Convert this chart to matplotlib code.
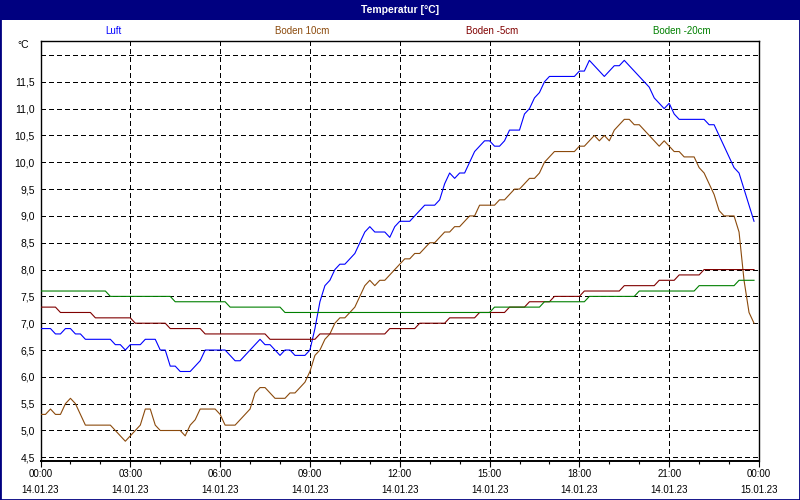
import matplotlib
matplotlib.use("Agg")
import matplotlib.pyplot as plt
from matplotlib.patches import Rectangle

plt.rcParams['font.family'] = ['Liberation Sans', 'DejaVu Sans']

# Messwerte 14.01.23, nur die Knickpunkte (10-Minuten-Werte)
luft_zeit = ["00:00", "00:20", "00:30", "00:40", "00:50", "01:00", "01:10", "01:20", "01:30", "02:20",
             "02:30", "02:40", "02:50", "03:00", "03:20", "03:30", "03:50", "04:00", "04:10", "04:20",
             "04:30", "04:40", "05:00", "05:10", "05:20", "05:30", "06:10", "06:20", "06:30", "06:40",
             "06:50", "07:00", "07:10", "07:20", "07:30", "07:40", "07:50", "08:00", "08:10", "08:20",
             "08:30", "08:50", "09:00", "09:10", "09:20", "09:30", "09:40", "09:50", "10:00", "10:10",
             "10:20", "10:30", "10:40", "10:50", "11:00", "11:10", "11:30", "11:40", "11:50", "12:00",
             "12:20", "12:30", "12:40", "12:50", "13:10", "13:20", "13:30", "13:40", "13:50", "14:00",
             "14:10", "14:20", "14:30", "14:40", "14:50", "15:00", "15:10", "15:20", "15:30", "15:40",
             "16:00", "16:10", "16:20", "16:30", "16:40", "16:50", "17:00", "17:50", "18:00", "18:10",
             "18:20", "18:30", "18:40", "18:50", "19:00", "19:10", "19:20", "19:30", "19:40", "19:50",
             "20:00", "20:10", "20:20", "20:30", "20:40", "20:50", "21:00", "21:10", "21:20", "22:10",
             "22:20", "22:30", "22:40", "22:50", "23:00", "23:10", "23:20", "23:30", "23:40", "23:50"]
luft_temp = [6.9, 6.9, 6.8, 6.8, 6.9, 6.9, 6.8, 6.8, 6.7, 6.7,
             6.6, 6.6, 6.5, 6.6, 6.6, 6.7, 6.7, 6.5, 6.5, 6.2,
             6.2, 6.1, 6.1, 6.2, 6.3, 6.5, 6.5, 6.4, 6.3, 6.3,
             6.4, 6.5, 6.6, 6.7, 6.6, 6.6, 6.5, 6.4, 6.5, 6.5,
             6.4, 6.4, 6.5, 6.9, 7.4, 7.7, 7.8, 8.0, 8.1, 8.1,
             8.2, 8.3, 8.5, 8.7, 8.8, 8.7, 8.7, 8.6, 8.8, 8.9,
             8.9, 9.0, 9.1, 9.2, 9.2, 9.3, 9.6, 9.8, 9.7, 9.8,
             9.8, 10.0, 10.2, 10.3, 10.4, 10.4, 10.3, 10.3, 10.4, 10.6,
             10.6, 10.9, 11.0, 11.2, 11.3, 11.5, 11.6, 11.6, 11.7, 11.7,
             11.9, 11.8, 11.7, 11.6, 11.7, 11.8, 11.8, 11.9, 11.8, 11.7,
             11.6, 11.5, 11.4, 11.2, 11.1, 11.0, 11.1, 10.9, 10.8, 10.8,
             10.7, 10.7, 10.5, 10.3, 10.1, 9.9, 9.8, 9.5, 9.2, 8.9]

b10_zeit = ["00:00", "00:10", "00:20", "00:30", "00:40", "00:50", "01:00", "01:10", "01:20", "01:30",
            "02:20", "02:30", "02:40", "02:50", "03:00", "03:10", "03:20", "03:30", "03:40", "03:50",
            "04:00", "04:40", "04:50", "05:00", "05:10", "05:20", "05:50", "06:00", "06:10", "06:30",
            "06:40", "06:50", "07:00", "07:10", "07:20", "07:30", "07:40", "07:50", "08:10", "08:20",
            "08:30", "08:40", "08:50", "09:00", "09:10", "09:20", "09:30", "09:40", "09:50", "10:00",
            "10:10", "10:20", "10:30", "10:40", "10:50", "11:00", "11:10", "11:20", "11:30", "11:40",
            "11:50", "12:00", "12:10", "12:20", "12:30", "12:40", "12:50", "13:00", "13:10", "13:20",
            "13:30", "13:40", "13:50", "14:00", "14:10", "14:20", "14:30", "14:40", "15:10", "15:20",
            "15:30", "15:40", "15:50", "16:00", "16:10", "16:20", "16:30", "16:40", "16:50", "17:00",
            "17:10", "17:50", "18:00", "18:10", "18:20", "18:30", "18:40", "18:50", "19:00", "19:10",
            "19:20", "19:30", "19:40", "19:50", "20:00", "20:10", "20:20", "20:30", "20:40", "20:50",
            "21:00", "21:10", "21:20", "21:30", "21:50", "22:00", "22:10", "22:20", "22:30", "22:40",
            "22:50", "23:10", "23:20", "23:30", "23:40", "23:50"]
b10_temp = [5.3, 5.3, 5.4, 5.3, 5.3, 5.5, 5.6, 5.5, 5.3, 5.1,
            5.1, 5.0, 4.9, 4.8, 4.9, 5.0, 5.1, 5.4, 5.4, 5.1,
            5.0, 5.0, 4.9, 5.1, 5.2, 5.4, 5.4, 5.3, 5.1, 5.1,
            5.2, 5.3, 5.4, 5.7, 5.8, 5.8, 5.7, 5.6, 5.6, 5.7,
            5.7, 5.8, 5.9, 6.1, 6.4, 6.5, 6.7, 6.8, 7.0, 7.1,
            7.1, 7.2, 7.3, 7.5, 7.7, 7.8, 7.7, 7.8, 7.8, 7.9,
            8.0, 8.1, 8.2, 8.2, 8.3, 8.3, 8.4, 8.5, 8.5, 8.6,
            8.7, 8.7, 8.8, 8.8, 8.9, 9.0, 9.0, 9.2, 9.2, 9.3,
            9.3, 9.4, 9.5, 9.5, 9.6, 9.7, 9.7, 9.8, 10.0, 10.1,
            10.2, 10.2, 10.3, 10.3, 10.4, 10.5, 10.4, 10.5, 10.4, 10.6,
            10.7, 10.8, 10.8, 10.7, 10.7, 10.6, 10.5, 10.4, 10.3, 10.4,
            10.3, 10.2, 10.2, 10.1, 10.1, 9.9, 9.8, 9.6, 9.4, 9.1,
            9.0, 9.0, 8.7, 7.8, 7.2, 7.0]

b5_zeit = ["00:00", "00:30", "00:40", "01:40", "01:50", "03:00", "03:10", "04:10", "04:20", "05:20",
           "05:30", "07:30", "07:40", "09:10", "09:20", "11:30", "11:40", "12:30", "12:40", "13:30",
           "13:40", "14:30", "14:40", "15:30", "15:40", "16:10", "16:20", "17:00", "17:10", "18:00",
           "18:10", "19:20", "19:30", "20:30", "20:40", "21:10", "21:20", "22:00", "22:10", "23:50"]
b5_temp = [7.3, 7.3, 7.2, 7.2, 7.1, 7.1, 7.0, 7.0, 6.9, 6.9,
           6.8, 6.8, 6.7, 6.7, 6.8, 6.8, 6.9, 6.9, 7.0, 7.0,
           7.1, 7.1, 7.2, 7.2, 7.3, 7.3, 7.4, 7.4, 7.5, 7.5,
           7.6, 7.6, 7.7, 7.7, 7.8, 7.8, 7.9, 7.9, 8.0, 8.0]

b20_zeit = ["00:00", "02:10", "02:20", "04:20", "04:30", "06:10", "06:20", "08:00", "08:10", "15:00",
            "15:10", "16:40", "16:50", "18:10", "18:20", "19:50", "20:00", "21:50", "22:00", "23:10",
            "23:20", "23:50"]
b20_temp = [7.6, 7.6, 7.5, 7.5, 7.4, 7.4, 7.3, 7.3, 7.2, 7.2,
            7.3, 7.3, 7.4, 7.4, 7.5, 7.5, 7.6, 7.6, 7.7, 7.7,
            7.8, 7.8]

namen = ["Luft", "Boden 10cm", "Boden -5cm", "Boden -20cm"]
farben = ["#0000ff", "#8b4a0c", "#800000", "#008000"]

x_ticks = [0, 3, 6, 9, 12, 15, 18, 21, 24]
x_labels = ["00:00\n14.01.23", "03:00\n14.01.23", "06:00\n14.01.23", "09:00\n14.01.23",
            "12:00\n14.01.23", "15:00\n14.01.23", "18:00\n14.01.23", "21:00\n14.01.23",
            "00:00\n15.01.23"]
y_ticks = [4.5, 5.0, 5.5, 6.0, 6.5, 7.0, 7.5, 8.0, 8.5, 9.0, 9.5, 10.0, 10.5, 11.0, 11.5, 12.0]


def stunden(zeiten):
    return [int(z[:2]) + int(z[3:]) / 60 for z in zeiten]


fig = plt.figure(figsize=(8, 5), dpi=100)
fig.patch.set_facecolor("white")

# Titelleiste und Rahmen
fig.patches.append(Rectangle((0, 0), 1, 1, transform=fig.transFigure, fill=False,
                             edgecolor="#000080", linewidth=2.0))
fig.patches.append(Rectangle((0, 1 - 20 / 500), 1, 20 / 500, transform=fig.transFigure,
                             facecolor="#000080", edgecolor="none"))
fig.text(0.5, 1 - 10 / 500, "Temperatur [°C]", color="white", fontsize=7.5,
         fontweight="bold", ha="center", va="center")

ax = fig.add_axes([40.5 / 800, 1 - 460.7 / 500, 718.5 / 800, 420.2 / 500])

serien = [(luft_zeit, luft_temp), (b10_zeit, b10_temp), (b5_zeit, b5_temp), (b20_zeit, b20_temp)]
for (zeit, temp), farbe in zip(serien, farben):
    ax.plot(stunden(zeit), temp, color=farbe, linewidth=0.8, zorder=3)

# Legende oben als farbige Texte
for i, (name, farbe) in enumerate(zip(namen, farben)):
    fig.text((113 + i * 189.5) / 800, 1 - 31 / 500, name, color=farbe, fontsize=7,
             ha="center", va="center")

fig.text(29 / 800, 1 - 45 / 500, "°C", fontsize=7.5, ha="right", va="center")

ax.set_xlim(0, 24)
ax.set_ylim(4.437, 12.27)
ax.set_xticks(x_ticks)
ax.set_xticklabels(x_labels, fontsize=7, linespacing=1.75)
ax.set_xticks(range(25), minor=True)
ax.set_yticks(y_ticks)
ax.set_yticklabels([f"{v:.1f}".replace(".", ",") if v < 12 else "" for v in y_ticks], fontsize=7.5)

ax.tick_params(axis="x", which="major", length=4, width=0.8, direction="out", pad=2)
ax.tick_params(axis="x", which="minor", length=2.5, width=0.8, direction="out")
ax.tick_params(axis="y", length=0, pad=4)

ax.grid(True, which="major", color="black", linestyle=(0, (4, 3)), linewidth=0.75)
for gl in ax.get_xgridlines() + ax.get_ygridlines():
    gl.set_antialiased(False)

for s in ax.spines.values():
    s.set_color("black")
    s.set_linewidth(1.0)
ax.spines["bottom"].set_linewidth(1.4)

fig.savefig("out.png", dpi=100)
